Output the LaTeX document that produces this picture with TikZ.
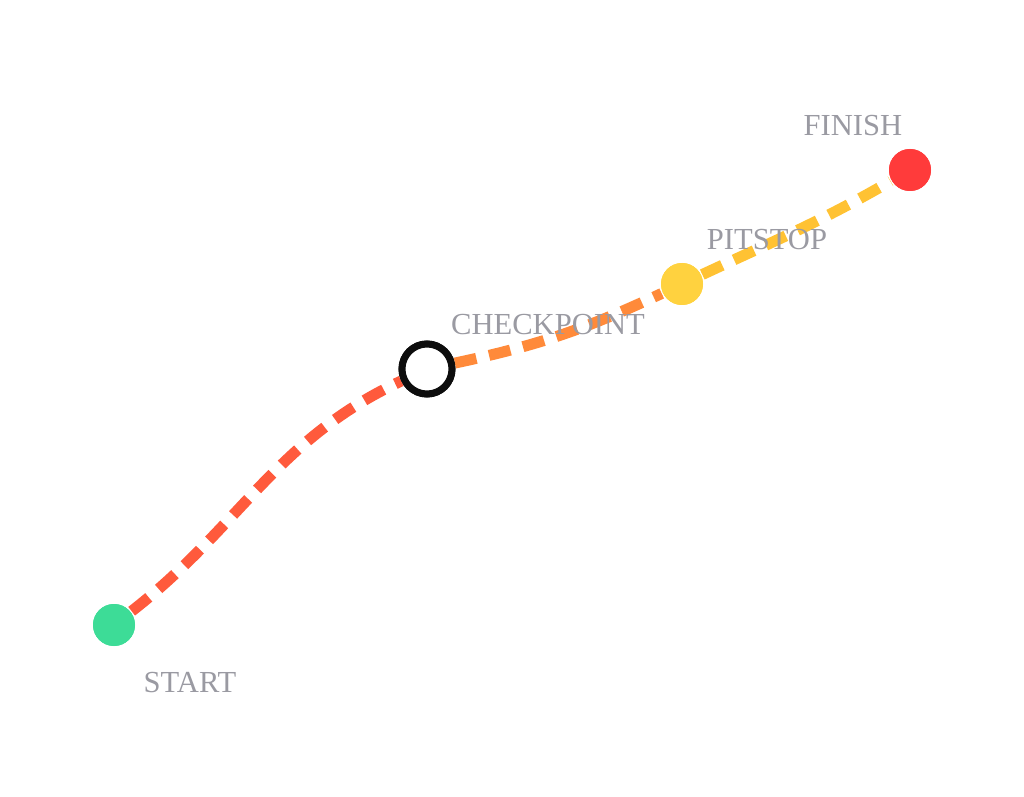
\documentclass[tikz,border=0pt]{standalone}
\usepackage{fontspec}
\setmainfont{Liberation Serif}
\definecolor{startgreen}{HTML}{3DDC97}
\definecolor{finishred}{HTML}{FF3B3B}
\definecolor{pityellow}{HTML}{FFD23F}
\definecolor{legred}{HTML}{FF5A3C}
\definecolor{legorange}{HTML}{FF8A3A}
\definecolor{legyellow}{HTML}{FFC233}
\definecolor{labelgray}{HTML}{9A9AA2}
\begin{document}
\begin{tikzpicture}[thick,
	stop/.style={circle,minimum size=0.42cm,inner sep=0pt},
	ring/.style={stop,fill=white,draw=black!95,line width=0.07cm,minimum size=0.5cm},
	leg/.style={line width=0.11cm,dash pattern=on 0.22cm off 0.13cm},
	lbl/.style={text=labelgray,font=\fontsize{8.7pt}{9pt}\selectfont}]
\useasboundingbox (0,0) rectangle (10.24,7.96);
% stops
\node[stop,fill=startgreen] (start) at (1.14,1.71) {};
\node[ring] (check) at (4.27,4.27) {};
\node[stop,fill=pityellow] (pit) at (6.82,5.12) {};
\node[stop,fill=finishred] (finish) at (9.10,6.26) {};
% legs
\draw[leg,legred] (start) to[out=38,in=-155] (check);
\draw[leg,legorange] (check) to[out=12,in=-155] (pit);
\draw[leg,legyellow] (pit) to[out=25,in=-150] (finish);
% redraw stops on top
\node[stop,fill=startgreen] at (start) {};
\node[ring] at (check) {};
\node[stop,fill=pityellow] at (pit) {};
\node[stop,fill=finishred] at (finish) {};
% labels
\node[lbl] (startlbl) at (1.90,1.13) {START};
\node[lbl] (checklbl) at (5.48,4.71) {CHECKPOINT};
\node[lbl] (pitlbl) at (7.67,5.56) {PITSTOP};
\node[lbl] (finishlbl) at (8.53,6.70) {FINISH};
\end{tikzpicture}
\end{document}
